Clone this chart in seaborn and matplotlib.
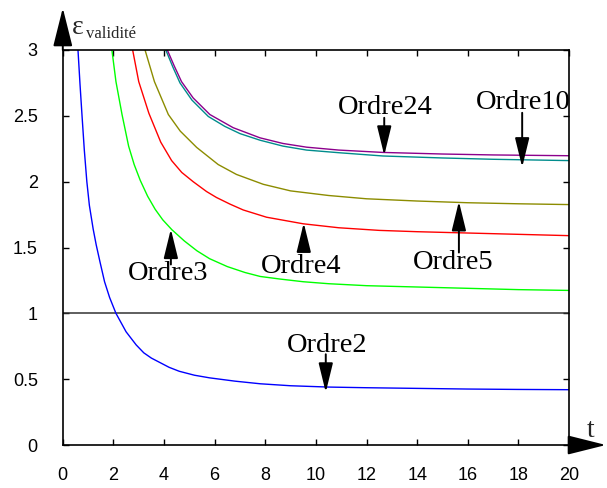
import matplotlib
matplotlib.use("Agg")
import matplotlib.pyplot as plt
import seaborn as sns
import pandas as pd

# ---- data ----
t2 = [0.6, 0.68, 0.76, 0.85, 0.95, 1.05, 1.2, 1.32, 1.47, 1.65, 1.85, 2.1, 2.5, 2.9, 3.2, 3.5,
      3.85, 4.2, 4.6, 5.2, 5.8, 6.8, 7.8, 9, 10.5, 12, 14, 16, 18, 20]
e2 = [3.0, 2.74, 2.5, 2.24, 2.0, 1.82, 1.64, 1.52, 1.39, 1.24, 1.12, 1.0, 0.86, 0.76, 0.70, 0.66,
      0.625, 0.59, 0.56, 0.53, 0.51, 0.485, 0.465, 0.45, 0.44, 0.435, 0.43, 0.425, 0.422, 0.42]

t3 = [1.94, 2.1, 2.34, 2.6, 2.82, 3.06, 3.35, 3.65, 3.95, 4.31, 4.8, 5.3, 5.8, 6.5, 7.2, 7.8,
      8.6, 9.5, 10.5, 12, 14, 16, 18, 20]
e3 = [3.0, 2.76, 2.51, 2.27, 2.13, 2.01, 1.89, 1.79, 1.71, 1.635, 1.55, 1.475, 1.415, 1.355, 1.31, 1.28,
      1.26, 1.24, 1.225, 1.21, 1.2, 1.19, 1.18, 1.174]

t4 = [2.76, 3.0, 3.4, 3.87, 4.3, 4.7, 5.15, 5.68, 6.07, 6.6, 7.13, 8.05, 9.5, 10.9, 12.5, 14, 16, 18, 20]
e4 = [3.0, 2.76, 2.52, 2.30, 2.16, 2.07, 2.0, 1.925, 1.88, 1.83, 1.785, 1.73, 1.68, 1.65, 1.63, 1.62,
      1.61, 1.6, 1.59]

t5 = [3.25, 3.62, 4.17, 4.64, 5.29, 6.14, 6.86, 7.92, 9.0, 10.5, 12, 14, 16, 18, 20]
e5 = [3.0, 2.76, 2.51, 2.384, 2.26, 2.13, 2.055, 1.98, 1.93, 1.895, 1.87, 1.853, 1.84, 1.832, 1.826]

t10 = [4.07, 4.35, 4.63, 5.1, 5.75, 6.4, 7.0, 7.79, 8.7, 9.63, 10.9, 12.65, 15, 17, 20]
e10 = [3.0, 2.87, 2.75, 2.62, 2.495, 2.42, 2.365, 2.315, 2.27, 2.24, 2.22, 2.195, 2.18, 2.17, 2.16]

t24 = [4.13, 4.4, 4.69, 5.15, 5.81, 6.73, 7.79, 8.7, 9.63, 10.9, 12.65, 15, 17, 20]
e24 = [3.0, 2.88, 2.76, 2.636, 2.51, 2.41, 2.333, 2.29, 2.262, 2.24, 2.222, 2.21, 2.203, 2.197]

series_names = ["Ordre2", "Ordre3", "Ordre4", "Ordre5", "Ordre10", "Ordre24"]
series_colors = ["#0000ff", "#00ff00", "#ff0000", "#8c8c00", "#008c8c", "#8c008c"]

x_ticks = [0, 2, 4, 6, 8, 10, 12, 14, 16, 18, 20]
y_ticks = [0, 0.5, 1, 1.5, 2, 2.5, 3]
y_tick_labels = ["0", "0.5", "1", "1.5", "2", "2.5", "3"]

# annotation: label, text pos (t, eps), tail (t, eps), tip (t, eps)
ann_labels = ["Ordre24", "Ordre10", "Ordre5", "Ordre4", "Ordre3", "Ordre2"]
ann_text = [(12.73, 2.562), (18.19, 2.60), (15.42, 1.389), (9.43, 1.358), (4.17, 1.303), (10.43, 0.758)]
ann_tail = [(12.7, 2.485), (18.15, 2.523), (15.65, 1.462), (9.52, 1.485), (4.27, 1.371), (10.39, 0.689)]
ann_tip = [(12.7, 2.20), (18.15, 2.11), (15.65, 1.85), (9.52, 1.687), (4.27, 1.64), (10.39, 0.40)]

# ---- build table ----
frames = []
for name, tt, ee in zip(series_names, [t2, t3, t4, t5, t10, t24], [e2, e3, e4, e5, e10, e24]):
    frames.append(pd.DataFrame({"t": tt, "eps": ee, "ordre": name}))
df = pd.concat(frames, ignore_index=True)

sns.set_style("white")
plt.rcParams["font.family"] = ["Liberation Sans", "DejaVu Sans"]

W, H = 607, 488
fig = plt.figure(figsize=(W / 100, H / 100), dpi=100)
x0, x1, ytop, ybot = 62.8, 569.0, 50.0, 445.0
ax = fig.add_axes([x0 / W, 1 - ybot / H, (x1 - x0) / W, (ybot - ytop) / H])

sns.lineplot(data=df, x="t", y="eps", hue="ordre", palette=dict(zip(series_names, series_colors)),
             estimator=None, sort=False, legend=False, lw=1.0, ax=ax)

ax.axhline(1.0, color="#333333", lw=1.1, zorder=1)

ax.set_xlim(0, 20)
ax.set_ylim(0, 3)
ax.set_xlabel("")
ax.set_ylabel("")
ax.set_xticks(x_ticks)
ax.set_xticklabels([str(v) for v in x_ticks])
ax.set_yticks(y_ticks)
ax.set_yticklabels(y_tick_labels)
ax.tick_params(axis="both", direction="in", length=4, width=1, colors="black",
               labelsize=13, top=True, right=True, bottom=True, left=True)
ax.tick_params(axis="x", pad=16)
ax.tick_params(axis="y", pad=18)
for s in ax.spines.values():
    s.set_color("black")
    s.set_linewidth(1.2)

for lab, tp, tl, tip in zip(ann_labels, ann_text, ann_tail, ann_tip):
    ax.text(tp[0], tp[1], lab, ha="center", va="center", fontsize=20.5,
            family=["Liberation Serif", "DejaVu Serif"], color="black")
    ax.annotate("", xy=tip, xytext=tl, xycoords="data", textcoords="data",
                arrowprops=dict(arrowstyle="-|>,head_length=0.9,head_width=0.22",
                                mutation_scale=20, lw=1.4, color="black",
                                shrinkA=0, shrinkB=0))

# axis arrows (figure pixel coords)
def fp(px, py):
    return (px / W, 1 - py / H)

fig.patches.append(matplotlib.patches.FancyArrowPatch(
    fp(x0, ytop), fp(x0, 8), transform=fig.transFigure,
    arrowstyle="-|>,head_length=1.2,head_width=0.3", mutation_scale=20,
    lw=1.4, color="black", shrinkA=0, shrinkB=0))
fig.patches.append(matplotlib.patches.FancyArrowPatch(
    fp(x1, ybot), fp(606, ybot), transform=fig.transFigure,
    arrowstyle="-|>,head_length=1.2,head_width=0.3", mutation_scale=20,
    lw=1.4, color="black", shrinkA=0, shrinkB=0))

fig.text(*fp(72, 34), "ε", fontsize=20, family=["Liberation Serif", "DejaVu Serif"],
         ha="left", va="baseline")
fig.text(*fp(86, 37.5), "validité", fontsize=12, family=["Liberation Serif", "DejaVu Serif"],
         ha="left", va="baseline")
fig.text(*fp(587, 437), "t", fontsize=20, family=["Liberation Serif", "DejaVu Serif"],
         ha="left", va="baseline")

fig.savefig("out.png", dpi=100)
